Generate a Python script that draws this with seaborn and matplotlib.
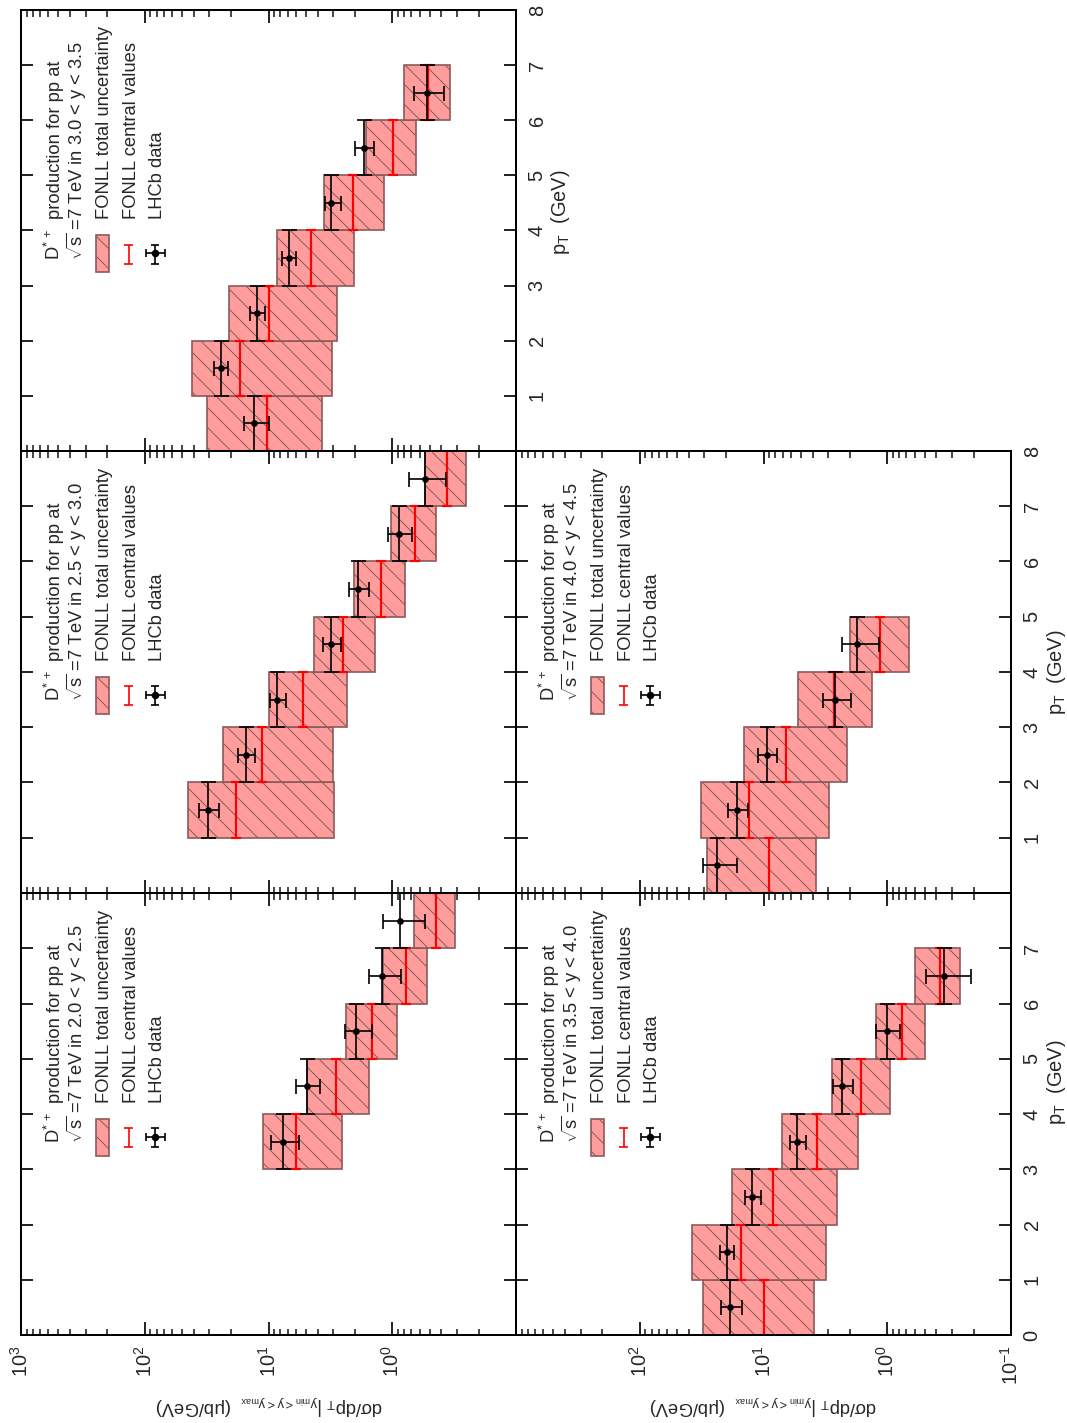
import numpy as np
import pandas as pd
import matplotlib
matplotlib.use("Agg")
import matplotlib.pyplot as plt
import seaborn as sns
from matplotlib.patches import Rectangle
from matplotlib.ticker import FixedLocator, LogLocator, NullFormatter

W, H, DPI = 1067, 1423, 120

# ---- values (ub/GeV); pT bins are 1 GeV wide, given by lower edge
# 2.0 < y < 2.5
pt_lo_a = [3, 4, 5, 6, 7]
fonll_min_a = [2.53, 1.54, 0.908, 0.528, 0.312]
fonll_max_a = [11.1, 4.90, 2.35, 1.19, 0.665]
fonll_cen_a = [5.97, 2.85, 1.45, 0.778, 0.445]
lhcb_a = [7.66, 4.92, 1.96, 1.20, 0.865]
lhcb_lo_a = [5.71, 3.86, 1.46, 0.853, 0.546]
lhcb_hi_a = [9.46, 5.97, 2.43, 1.54, 1.19]

# 2.5 < y < 3.0
pt_lo_b = [1, 2, 3, 4, 5, 6, 7]
fonll_min_b = [2.96, 3.01, 2.32, 1.37, 0.782, 0.439, 0.254]
fonll_max_b = [45.0, 23.4, 9.95, 4.30, 2.05, 1.02, 0.546]
fonll_cen_b = [18.3, 11.2, 5.27, 2.50, 1.24, 0.649, 0.364]
lhcb_b = [31.0, 15.2, 8.57, 3.13, 1.89, 0.885, 0.548]
lhcb_lo_b = [25.2, 12.9, 7.28, 2.60, 1.55, 0.692, 0.371]
lhcb_hi_b = [36.6, 17.5, 9.69, 3.63, 2.24, 1.09, 0.731]

# 3.0 < y < 3.5
pt_lo_c = [0, 1, 2, 3, 4, 5, 6]
fonll_min_c = [3.70, 3.07, 2.80, 2.02, 1.16, 0.637, 0.344]
fonll_max_c = [31.4, 41.2, 21.0, 8.51, 3.57, 1.64, 0.802]
fonll_cen_c = [10.3, 16.9, 9.82, 4.51, 2.06, 0.986, 0.513]
lhcb_c = [13.0, 24.3, 12.4, 6.89, 3.11, 1.70, 0.522]
lhcb_lo_c = [9.95, 21.2, 10.7, 6.01, 2.61, 1.40, 0.381]
lhcb_hi_c = [15.9, 27.4, 14.1, 7.80, 3.52, 2.01, 0.670]

# 3.5 < y < 4.0
pt_lo_d = [0, 1, 2, 3, 4, 5, 6]
fonll_min_d = [3.89, 3.15, 2.57, 1.72, 0.942, 0.492, 0.259]
fonll_max_d = [30.6, 37.5, 17.9, 7.05, 2.82, 1.24, 0.593]
fonll_cen_d = [9.96, 15.3, 8.43, 3.72, 1.63, 0.760, 0.378]
lhcb_d = [18.6, 19.8, 12.3, 5.34, 2.32, 1.00, 0.350]
lhcb_lo_d = [14.8, 17.2, 10.5, 4.52, 1.89, 0.783, 0.212]
lhcb_hi_d = [22.1, 22.5, 14.0, 6.15, 2.72, 1.24, 0.483]

# 4.0 < y < 4.5
pt_lo_e = [0, 1, 2, 3, 4]
fonll_min_e = [3.77, 2.94, 2.11, 1.32, 0.671]
fonll_max_e = [28.4, 32.1, 14.3, 5.24, 2.00]
fonll_cen_e = [9.08, 13.0, 6.62, 2.69, 1.14]
lhcb_e = [23.6, 16.4, 9.42, 2.64, 1.75]
lhcb_lo_e = [16.3, 13.4, 7.74, 1.97, 1.16]
lhcb_hi_e = [30.9, 19.5, 11.1, 3.30, 2.34]

sigma_ticks = [1e3, 1e2, 1e1, 1e0, 1e-1]
sigma_ticklabels = [r'$\mathregular{10^{3}}$', r'$\mathregular{10^{2}}$', r'$\mathregular{10^{1}}$',
                    r'$\mathregular{10^{0}}$', r'$\mathregular{10^{-1}}$']
pt_ticks = list(range(0, 9))

sns.set_style("ticks")
plt.rcParams['font.family'] = ['Liberation Sans', 'DejaVu Sans']
plt.rcParams['mathtext.fontset'] = 'custom'
plt.rcParams['mathtext.rm'] = 'Liberation Sans'
plt.rcParams['mathtext.it'] = 'Liberation Sans:italic'
plt.rcParams['mathtext.bf'] = 'Liberation Sans:bold'
plt.rcParams['hatch.linewidth'] = 0.6

BOX_FACE = '#ff9c9c'
BOX_EDGE = '#8a5a5a'
FS = 11

fig = plt.figure(figsize=(W / DPI, H / DPI), dpi=DPI)

col_x = [(21, 516), (516, 1011)]
row_y = [(10, 451), (451, 893), (893, 1335)]


def make_ax(col, row):
  x0, x1 = col_x[col]
  y0, y1 = row_y[row]
  return fig.add_axes([x0 / W, 1 - y1 / H, (x1 - x0) / W, (y1 - y0) / H])


def draw_panel(ax, rap, pt_lo, fmin, fmax, fcen, val, vlo, vhi, xlab_show, ylab_show):
  pt_c = np.array(pt_lo) + 0.5
  fmin = np.array(fmin); fmax = np.array(fmax)
  val = np.array(val)

  # FONLL uncertainty bands
  ax.barh(pt_c, fmax - fmin, left=fmin, height=1.0, color=BOX_FACE,
          edgecolor=BOX_EDGE, linewidth=1.0, hatch='\\\\', zorder=1)
  # FONLL central values
  ax.errorbar(fcen, pt_c, yerr=0.5, fmt='none', ecolor='red', elinewidth=1.3,
              capsize=3, capthick=1.3, zorder=2)
  # LHCb data
  ax.errorbar(val, pt_c, xerr=[val - np.array(vlo), np.array(vhi) - val], yerr=0.5,
              fmt='none', ecolor='black', elinewidth=1.0, capsize=4.5, capthick=1.0, zorder=3)
  df = pd.DataFrame({'sigma': val, 'pt': pt_c})
  sns.scatterplot(data=df, x='sigma', y='pt', ax=ax, color='black', s=16,
                  edgecolor='black', linewidth=0, zorder=4)

  ax.set_xscale('log')
  ax.set_xlim(1e3, 1e-1)
  ax.set_ylim(0, 8)
  ax.set_xlabel('')
  ax.set_ylabel('')

  ax.xaxis.set_major_locator(FixedLocator(sigma_ticks))
  ax.xaxis.set_minor_locator(LogLocator(base=10, subs=np.arange(2, 10), numticks=30))
  ax.xaxis.set_minor_formatter(NullFormatter())
  ax.set_xticklabels([l if s else '' for l, s in zip(sigma_ticklabels, xlab_show)],
                     rotation=90, fontsize=FS + 1)
  ax.tick_params(axis='x', which='both', direction='in', top=True, bottom=True, pad=6)
  ax.tick_params(axis='x', which='major', length=7.8, width=1.2)
  ax.tick_params(axis='x', which='minor', length=3.9, width=1.0)

  ax.set_yticks(pt_ticks)
  ax.set_yticklabels([str(t) if s else '' for t, s in zip(pt_ticks, ylab_show)],
                     rotation=90, fontsize=FS + 1, va='center')
  ax.tick_params(axis='y', which='both', direction='in', left=True, right=True,
                 labelleft=False, labelright=True, length=7.2, width=1.2, pad=7)
  ax.yaxis.set_minor_locator(FixedLocator([]))

  for sp in ax.spines.values():
    sp.set_visible(True)
    sp.set_color('black')
    sp.set_linewidth(1.2)

  # legend, drawn rotated like the rest of the page
  tkw = dict(transform=ax.transAxes, rotation=90, rotation_mode='anchor',
             ha='left', va='baseline', fontsize=FS)
  ax.text(0.079, 0.434, r'D$^{*\,+}$', **tkw)
  ax.text(0.079, 0.525, 'production for pp at', **tkw)
  ax.text(0.126, 0.434, r'$\sqrt{\mathregular{s}}$ =7 TeV in ' + rap, **tkw)
  ax.text(0.178, 0.525, 'FONLL total uncertainty', **tkw)
  ax.text(0.232, 0.525, 'FONLL central values', **tkw)
  ax.text(0.285, 0.525, 'LHCb data', **tkw)

  ax.add_patch(Rectangle((0.151, 0.405), 0.027, 0.084, transform=ax.transAxes,
                         facecolor=BOX_FACE, edgecolor=BOX_EDGE, linewidth=1.0, hatch='\\\\'))
  lk = dict(transform=ax.transAxes, lw=1.0, solid_capstyle='butt')
  ax.plot([0.218, 0.218], [0.425, 0.468], color='red', **lk)
  ax.plot([0.209, 0.227], [0.425, 0.425], color='red', **lk)
  ax.plot([0.209, 0.227], [0.468, 0.468], color='red', **lk)
  ax.plot([0.271, 0.271], [0.425, 0.468], color='black', **lk)
  ax.plot([0.252, 0.291], [0.448, 0.448], color='black', **lk)
  ax.plot([0.263, 0.279], [0.425, 0.425], color='black', **lk)
  ax.plot([0.263, 0.279], [0.468, 0.468], color='black', **lk)
  ax.plot([0.252, 0.252], [0.439, 0.457], color='black', **lk)
  ax.plot([0.291, 0.291], [0.439, 0.457], color='black', **lk)
  ax.plot([0.271], [0.448], 'o', color='black', ms=3.5, transform=ax.transAxes)


no_x = [False] * 5
no_y = [False] * 9

ax_a = make_ax(0, 2)
draw_panel(ax_a, '2.0 < y < 2.5', pt_lo_a, fonll_min_a, fonll_max_a, fonll_cen_a,
           lhcb_a, lhcb_lo_a, lhcb_hi_a, [True, True, True, True, False], no_y)
ax_b = make_ax(0, 1)
draw_panel(ax_b, '2.5 < y < 3.0', pt_lo_b, fonll_min_b, fonll_max_b, fonll_cen_b,
           lhcb_b, lhcb_lo_b, lhcb_hi_b, no_x, no_y)
ax_c = make_ax(0, 0)
draw_panel(ax_c, '3.0 < y < 3.5', pt_lo_c, fonll_min_c, fonll_max_c, fonll_cen_c,
           lhcb_c, lhcb_lo_c, lhcb_hi_c, no_x, [False] + [True] * 8)
ax_d = make_ax(1, 2)
draw_panel(ax_d, '3.5 < y < 4.0', pt_lo_d, fonll_min_d, fonll_max_d, fonll_cen_d,
           lhcb_d, lhcb_lo_d, lhcb_hi_d, [False, True, True, True, True], [True] * 8 + [False])
ax_e = make_ax(1, 1)
draw_panel(ax_e, '4.0 < y < 4.5', pt_lo_e, fonll_min_e, fonll_max_e, fonll_cen_e,
           lhcb_e, lhcb_lo_e, lhcb_hi_e, no_x, [False] + [True] * 8)

# axis titles (page is turned, so they are placed by hand)
ylab = r'dσ/dp$_{\mathregular{T}}$ |$_{\mathregular{y_{min} < y < y_{max}}}$  (μb/GeV)'
for xc in [269, 763.5]:
  fig.text(xc / W, 1 - 1405 / H, ylab, rotation=180, ha='center', va='center', fontsize=FS)

ptlab = r'p$_{\mathregular{T}}$  (GeV)'
for xc, yc in [(1056, 1082), (1056, 672), (560, 212)]:
  fig.text(xc / W, 1 - yc / H, ptlab, rotation=90, ha='center', va='center', fontsize=FS + 1)

fig.savefig('out.png', dpi=DPI)
